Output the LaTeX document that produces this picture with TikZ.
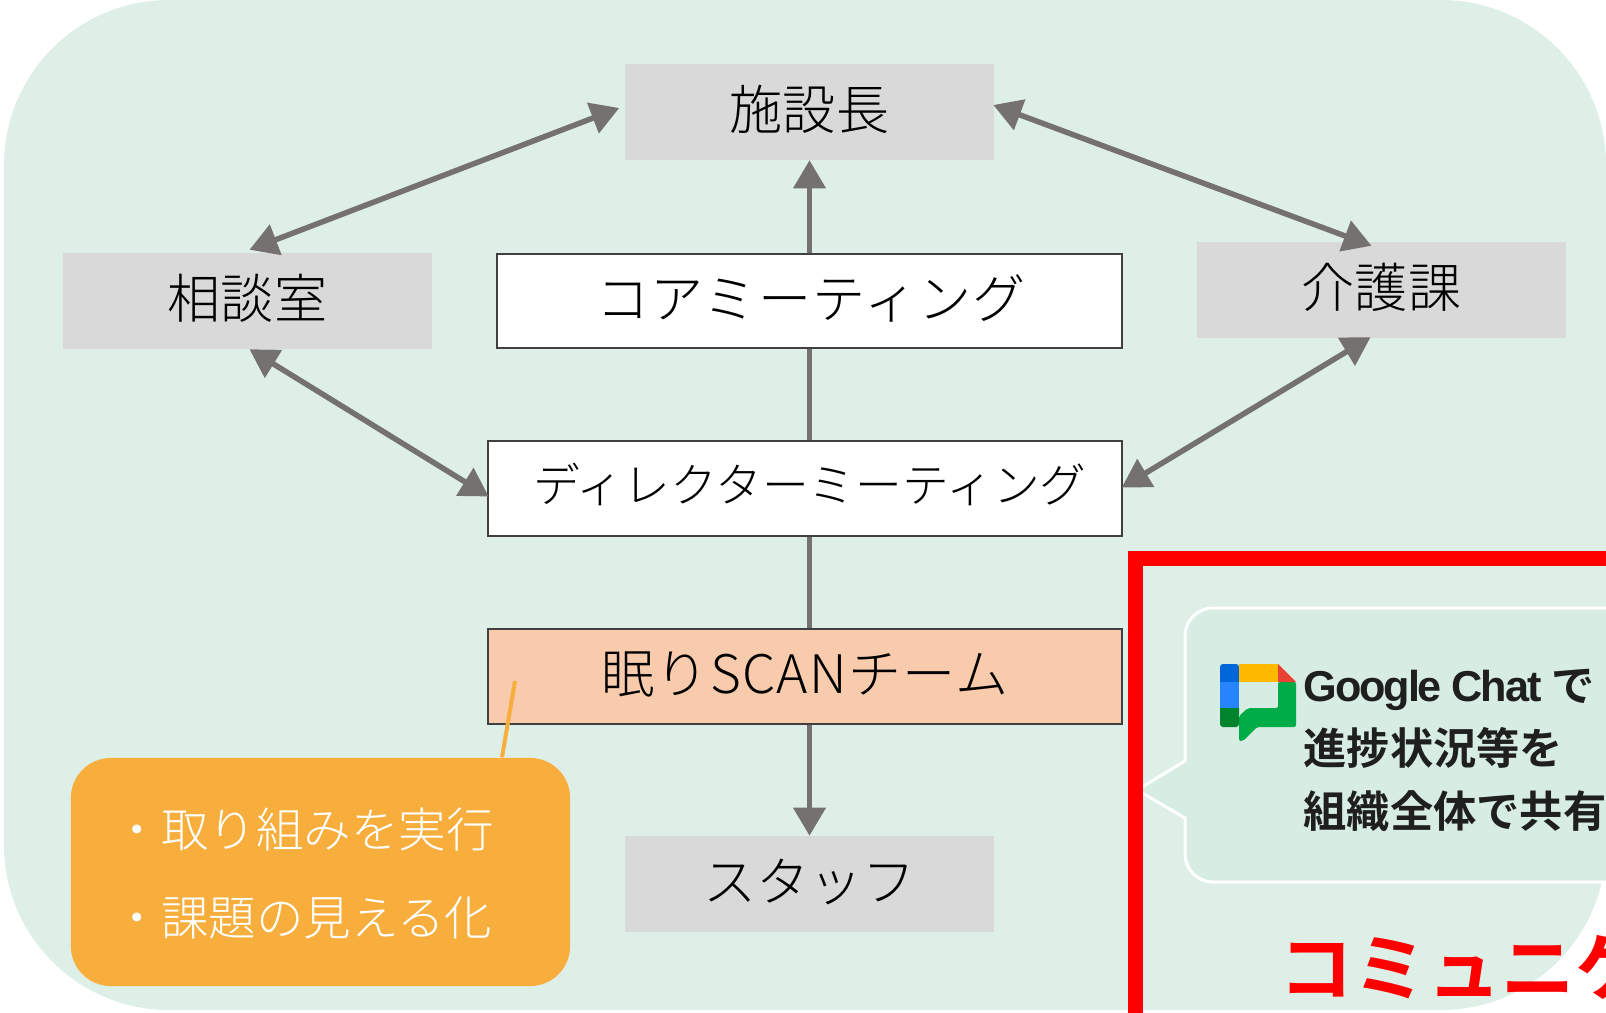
\documentclass[tikz,border=0pt]{standalone}
\usepackage{fontspec}
\usetikzlibrary{arrows.meta}
\newfontfamily\jpfont{Noto Sans CJK JP Light}
\newfontfamily\jpancho[LetterSpace=2.5]{Noto Sans CJK JP Light}
\newfontfamily\jpbold{Noto Sans CJK JP Bold}
\newfontfamily\latinbold[LetterSpace=-5]{Liberation Sans Bold}
\definecolor{fondo}{HTML}{DEEFE8}
\definecolor{burbuja}{HTML}{D7EDE3}
\definecolor{gris}{HTML}{D9D9D9}
\definecolor{flecha}{HTML}{767171}
\definecolor{borde}{HTML}{404040}
\definecolor{melocoton}{HTML}{F8CBAD}
\definecolor{naranja}{HTML}{F7AE3D}
\definecolor{tinta}{HTML}{1F1F1F}
\definecolor{chatazul}{HTML}{0066DA}
\definecolor{chatceleste}{HTML}{2684FC}
\definecolor{chatamarillo}{HTML}{FFBA00}
\definecolor{chatrojo}{HTML}{EA4335}
\definecolor{chatverde}{HTML}{00AC47}
\definecolor{chatoscuro}{HTML}{00832D}
\tikzset{
    caja/.style={minimum width=3.69cm, minimum height=0.95cm, inner sep=0pt,
        text height=0.40cm, text depth=0.06cm,
        font=\jpfont\fontsize{15.1}{17}\selectfont},
    cajagris/.style={caja, fill=gris},
    cajalinea/.style={caja, draw=borde, line width=0.6pt},
    conector/.style={draw=flecha, line width=0.055cm, >={Triangle[length=8pt,width=9pt]}},
}
\begin{document}
\begin{tikzpicture}[x=0.01cm, y=-0.01cm]
    \useasboundingbox (0,0) rectangle (1606,1012);
    \clip (0,0) rectangle (1606,1012);

    % Fondo
    \fill[fondo, rounded corners=1.65cm] (4,0) rectangle (1606,1010);

    % Cajas
    \node[cajagris] (shisetsu) at (809.5,112) {施設長};
    \node[cajagris] (soudan) at (247.5,301) {相談室};
    \node[cajagris] (kaigo) at (1381.5,290) {介護課};
    \node[cajalinea, fill=white, minimum width=6.245cm, minimum height=0.945cm, font=\jpancho\fontsize{15.1}{17}\selectfont] (core) at (809.5,301) {\hspace*{0.03cm}コアミーティング};
    \node[cajalinea, fill=white, minimum width=6.34cm, text height=0.35cm, text depth=0.08cm, font=\jpfont\fontsize{13.3}{16}\selectfont] (director) at (805,488.5) {\hspace*{0.1cm}ディレクターミーティング};
    \node[cajalinea, fill=melocoton, minimum width=6.34cm, font=\jpancho\fontsize{15.1}{17}\selectfont] (nemuri) at (805,676.5) {眠りSCANチーム};
    \node[cajagris] (staff) at (809.5,884) {スタッフ};

    % Flechas
    \draw[conector, <->] ([shift={(2,-3)}]soudan.north) -- ([shift={(-5,-4)}]shisetsu.west);
    \draw[conector, <->] ([shift={(-1.5,-7)}]shisetsu.east) -- ([shift={(-10,4)}]kaigo.north);
    \draw[conector, <->] ([shift={(2,0)}]soudan.south) -- ([shift={(2,8)}]director.west);
    \draw[conector, <->] ([shift={(-11,-1)}]kaigo.south) -- ([shift={(-1.5,-1)}]director.east);
    \draw[conector, ->] (core.north) -- (shisetsu.south);
    \draw[conector] (core.south) -- (core.south |- director.north);
    \draw[conector] (core.south |- director.south) -- (core.south |- nemuri.north);
    \draw[conector, ->] (staff.north |- nemuri.south) -- (staff.north);

    % Nota naranja
    \coordinate (nemuripunta) at (515,681);
    \node[fill=naranja, rounded corners=0.4cm, minimum width=4.99cm, minimum height=2.28cm, inner sep=0pt] (nota) at (320.5,872) {};
    \node[anchor=west, inner sep=0pt, text=white, align=left, font=\jpfont\fontsize{13.5}{25}\selectfont] (notatexto) at (113,873)
        {・取り組みを実行\\・課題の見える化};
    \draw[naranja, line width=0.04cm] (nemuripunta) -- ([shift={(181.5,0)}]nota.north);

    % Burbuja
    \draw[white, fill=burbuja, line width=0.03cm] (1185,761) -- (1137,790) -- (1185,818)
        [rounded corners=0.28cm] -- (1185,882) -- (1660,882) -- (1660,608) -- (1185,608)
        [sharp corners] -- (1185,761) -- cycle;

    % Icono del chat
    \fill[chatverde, rounded corners=0.02cm] (1278,682) -- (1296,682) -- (1296,727) -- (1257,727) -- (1243,741) -- (1239,741) -- (1239,716) -- (1248,708) -- (1278,708) -- cycle;
    \fill[chatazul] (1220,682) [rounded corners=0.03cm] -- (1220,664) -- (1239,664) [sharp corners] -- (1239,682) -- cycle;
    \fill[chatceleste] (1220,682) rectangle (1239,708);
    \fill[chatoscuro] (1220,708) [rounded corners=0.03cm] -- (1220,727) -- (1239,727) [sharp corners] -- (1239,708) -- cycle;
    \fill[chatamarillo] (1239,664) rectangle (1278,682);
    \fill[chatrojo] (1278,664) -- (1296,682) -- (1278,682) -- cycle;

    \node[anchor=west, inner sep=0pt, align=left, text=tinta, font=\jpbold\fontsize{12.3}{18}\selectfont] (texto) at (1303,750.5)
        {{\latinbold Google Chat} で\\進捗状況等を\\組織全体で共有};

    % Marco rojo
    \draw[red, line width=0.15cm] (1660,558.5) -- (1135,558.5) -- (1135,1060);
    \node[anchor=west, inner sep=0pt, text=red, font=\jpbold\fontsize{21}{25}\selectfont] (titulo) at (1279,967) {コミュニケ};
\end{tikzpicture}
\end{document}
